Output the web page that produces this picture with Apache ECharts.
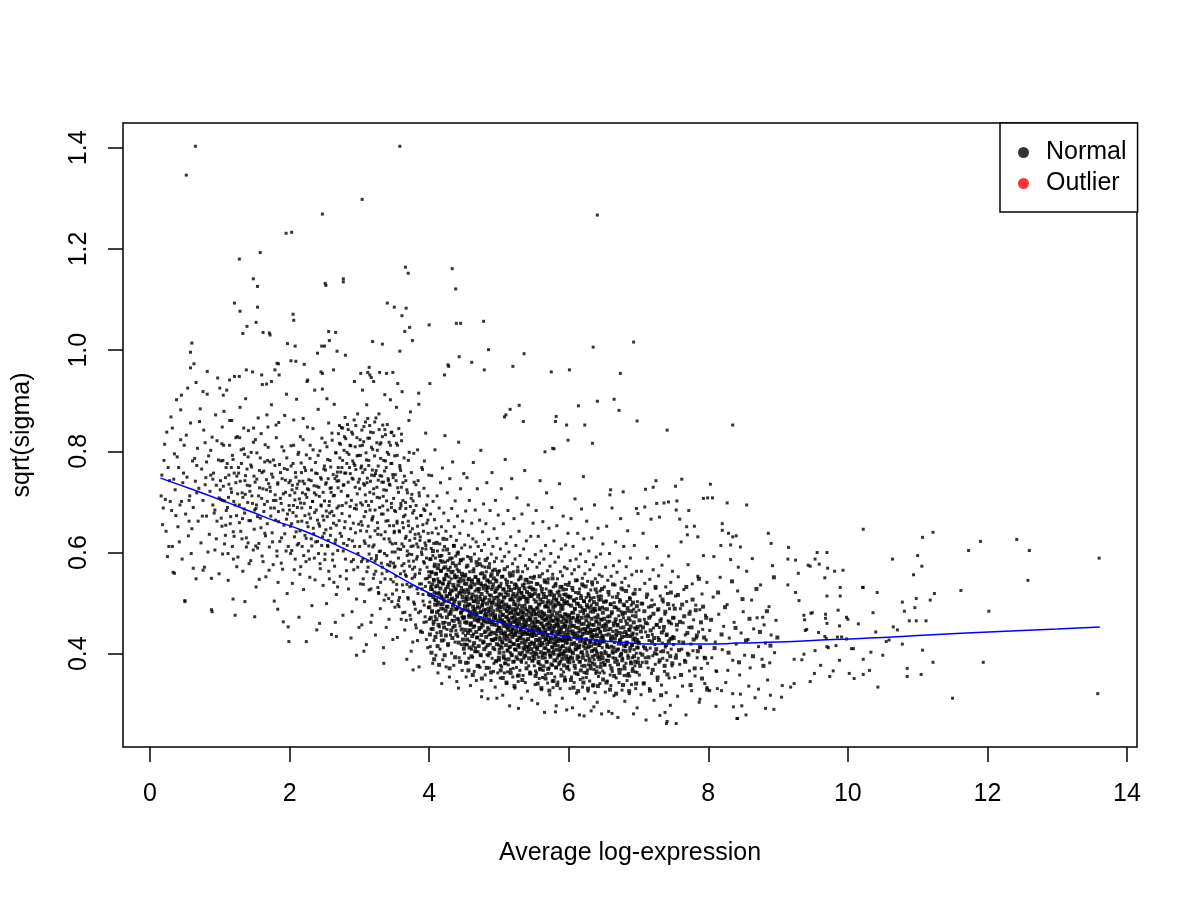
<!DOCTYPE html>
<html>
<head>
<meta charset="utf-8">
<title>sqrt(sigma) vs Average log-expression</title>
<script src="https://cdn.jsdelivr.net/npm/echarts@6/dist/echarts.min.js"></script>
<style>
  html, body { margin: 0; padding: 0; background: #fff; }
  #chart { width: 1200px; height: 900px; }
</style>
</head>
<body>
<div id="chart"></div>
<script>
// tick labels
const xTicks = [0, 2, 4, 6, 8, 10, 12, 14]
const yTicks = [0.4, 0.6, 0.8, 1.0, 1.2, 1.4]

// lowess trend (blue line)
const trendX = [0.15, 0.6, 1.05, 1.5, 1.76, 2.2, 2.7, 3.2, 3.72, 4.01, 4.34, 4.73, 5.1, 5.44, 5.8, 6.16, 6.5, 6.88, 7.2, 7.59, 8.0, 8.45, 9.0, 9.79, 10.5, 11.0, 11.7, 12.5, 13.0, 13.61]
const trendY = [0.747, 0.725, 0.702, 0.678, 0.664, 0.643, 0.613, 0.58, 0.54, 0.519, 0.498, 0.473, 0.459, 0.447, 0.437, 0.43, 0.425, 0.421, 0.419, 0.419, 0.419, 0.421, 0.423, 0.428, 0.432, 0.436, 0.441, 0.446, 0.449, 0.453]

// points, by strip of average log-expression
const pts0to1 = [[0.16,0.712],[0.18,0.655],[0.2,0.782],[0.22,0.705],[0.24,0.838],[0.27,0.612],[0.28,0.742],[0.3,0.868],[0.31,0.683],[0.33,0.561],[0.35,0.795],[0.36,0.724],[0.38,0.902],[0.4,0.651],[0.41,0.768],[0.43,0.694],[0.44,0.823],[0.46,0.587],[0.47,0.738],[0.49,0.812],[0.5,0.505],[0.51,0.676],[0.53,0.749],[0.54,0.925],[0.55,0.633],[0.57,0.712],[0.58,0.856],[0.59,0.598],[0.61,0.781],[0.62,0.689],[0.63,0.973],[0.65,0.741],[0.66,0.548],[0.68,0.806],[0.69,0.662],[0.7,0.727],[0.72,0.884],[0.73,0.619],[0.74,0.765],[0.76,0.703],[0.77,0.842],[0.78,0.571],[0.8,0.748],[0.81,0.672],[0.82,0.913],[0.84,0.791],[0.85,0.636],[0.86,0.721],[0.88,0.487],[0.89,0.828],[0.9,0.694],[0.91,0.757],[0.93,0.605],[0.94,0.872],[0.95,0.733],[0.96,0.662],[0.97,0.945],[0.98,0.783],[0.99,0.558],[0.34,0.745],[0.45,0.701],[0.56,0.662],[0.67,0.772],[0.79,0.817],[0.87,0.753],[0.92,0.678],
  [0.17,0.753],[0.19,0.688],[0.21,0.814],[0.23,0.642],[0.26,0.768],[0.29,0.701],[0.32,0.846],[0.37,0.673],[0.39,0.789],[0.42,0.621],[0.48,0.757],[0.52,0.832],[0.56,0.703],[0.6,0.647],[0.64,0.786],[0.67,0.718],[0.71,0.859],[0.75,0.672],[0.79,0.734],[0.83,0.601],[0.87,0.802],[0.9,0.745],[0.93,0.684],[0.96,0.821],[0.99,0.708],[0.25,0.592],[0.44,0.882],[0.62,0.569],[0.81,0.779],[0.95,0.627]]

const pts1to2 = [[1.01,0.742],[1.02,0.668],[1.03,0.815],[1.04,0.597],[1.05,0.731],[1.06,0.879],[1.07,0.702],[1.08,0.634],[1.09,0.768],[1.1,0.921],[1.11,0.689],[1.12,0.545],[1.13,0.753],[1.14,0.812],[1.15,0.657],[1.16,0.726],[1.17,0.861],[1.18,0.612],[1.19,0.784],[1.2,0.701],[1.21,0.948],[1.22,0.476],[1.23,0.738],[1.24,0.673],[1.25,0.829],[1.26,0.591],[1.27,0.757],[1.28,0.694],[1.29,0.887],[1.3,0.642],[1.31,0.776],[1.32,0.718],[1.33,0.563],[1.34,0.805],[1.35,0.686],[1.36,0.742],[1.37,0.904],[1.38,0.629],[1.39,0.765],[1.4,0.699],[1.41,0.841],[1.42,0.578],[1.43,0.732],[1.44,0.663],[1.45,0.798],[1.46,0.712],[1.47,0.957],[1.48,0.605],[1.49,0.751],[1.5,0.684],[1.51,0.823],[1.52,0.532],[1.53,0.745],[1.54,0.671],[1.55,0.866],[1.56,0.618],[1.57,0.728],[1.58,0.787],[1.59,0.649],[1.6,0.707],[1.61,0.932],[1.62,0.582],[1.63,0.761],[1.64,0.695],[1.65,0.813],[1.66,0.552],[1.67,0.724],[1.68,0.657],[1.69,0.848],[1.7,0.736],[1.71,0.611],[1.72,0.779],[1.73,0.688],[1.74,0.892],[1.75,0.639],[1.76,0.749],[1.77,0.703],[1.78,0.504],[1.79,0.772],[1.8,0.664],[1.81,0.827],[1.82,0.593],[1.83,0.735],[1.84,0.681],[1.85,0.951],[1.86,0.622],[1.87,0.758],[1.88,0.697],[1.89,0.809],[1.9,0.567],[1.91,0.716],[1.92,0.654],[1.93,0.871],[1.94,0.743],[1.95,0.603],[1.96,0.787],[1.97,0.676],[1.98,0.453],[1.99,0.738],[1.015,0.705],[1.045,0.782],[1.085,0.654],[1.125,0.709],[1.165,0.768],[1.205,0.632],[1.245,0.751],[1.285,0.827],[1.325,0.667],[1.365,0.715],[1.405,0.619],[1.445,0.773],[1.485,0.846],[1.525,0.694],[1.565,0.547],[1.605,0.758],[1.645,0.638],[1.685,0.782],[1.725,0.721],[1.765,0.576],[1.805,0.703],[1.845,0.857],[1.885,0.629],[1.925,0.766],[1.965,0.519],[1.035,0.848],[1.195,0.587],[1.355,0.794],[1.515,0.613],[1.675,0.872],[1.835,0.541],[1.955,0.913],
  [1.006,0.724],[1.018,0.781],[1.031,0.652],[1.043,0.703],[1.056,0.812],[1.068,0.617],[1.081,0.748],[1.093,0.683],[1.106,0.776],[1.118,0.598],[1.131,0.735],[1.143,0.861],[1.156,0.671],[1.168,0.719],[1.181,0.792],[1.193,0.641],[1.206,0.757],[1.218,0.694],[1.231,0.827],[1.243,0.572],[1.256,0.716],[1.268,0.768],[1.281,0.659],[1.293,0.741],[1.306,0.803],[1.318,0.627],[1.331,0.709],[1.343,0.846],[1.356,0.678],[1.368,0.752],[1.381,0.611],[1.393,0.733],[1.406,0.789],[1.418,0.663],[1.431,0.721],[1.443,0.584],[1.456,0.769],[1.468,0.697],[1.481,0.818],[1.493,0.646],[1.506,0.739],[1.518,0.687],[1.531,0.797],[1.543,0.609],[1.556,0.712],[1.568,0.762],[1.581,0.668],[1.593,0.835],[1.606,0.593],[1.618,0.726],[1.631,0.681],[1.643,0.779],[1.656,0.633],[1.668,0.744],[1.681,0.701],[1.693,0.808],[1.706,0.565],[1.718,0.729],[1.731,0.672],[1.743,0.755],[1.756,0.621],[1.768,0.783],[1.781,0.688],[1.793,0.714],[1.806,0.852],[1.818,0.603],[1.831,0.738],[1.843,0.661],[1.856,0.774],[1.868,0.707],[1.881,0.579],[1.893,0.746],[1.906,0.684],[1.918,0.801],[1.931,0.637],[1.943,0.719],[1.956,0.666],[1.968,0.764],[1.981,0.612],[1.993,0.693]]

const pts2to3 = [[2.0,0.684],[2.01,0.742],[2.015,0.598],[2.02,0.811],[2.03,0.657],[2.035,0.724],[2.04,0.539],[2.05,0.776],[2.055,0.693],[2.06,0.862],[2.07,0.631],[2.075,0.718],[2.08,0.587],[2.09,0.749],[2.095,0.672],[2.1,0.903],[2.11,0.615],[2.115,0.735],[2.12,0.661],[2.13,0.798],[2.135,0.472],[2.14,0.706],[2.15,0.643],[2.155,0.829],[2.16,0.572],[2.17,0.758],[2.175,0.688],[2.18,0.612],[2.19,0.741],[2.195,0.865],[2.2,0.527],[2.21,0.697],[2.215,0.768],[2.22,0.634],[2.23,0.715],[2.235,0.582],[2.24,0.793],[2.25,0.659],[2.255,0.726],[2.26,0.941],[2.27,0.603],[2.275,0.744],[2.28,0.676],[2.29,0.551],[2.295,0.812],[2.3,0.689],[2.31,0.627],[2.315,0.763],[2.32,0.495],[2.33,0.701],[2.335,0.845],[2.34,0.648],[2.35,0.732],[2.355,0.589],[2.36,0.679],[2.37,0.778],[2.375,0.621],[2.38,0.714],[2.39,0.447],[2.395,0.756],[2.4,0.664],[2.41,0.883],[2.415,0.598],[2.42,0.729],[2.43,0.652],[2.435,0.801],[2.44,0.568],[2.45,0.694],[2.455,0.745],[2.46,0.614],[2.47,0.923],[2.475,0.672],[2.48,0.535],[2.49,0.765],[2.495,0.638],
  [2.5,0.702],[2.505,0.586],[2.51,0.817],[2.52,0.645],[2.525,0.738],[2.53,0.499],[2.54,0.671],[2.545,0.784],[2.55,0.612],[2.56,0.856],[2.565,0.693],[2.57,0.548],[2.58,0.727],[2.585,0.634],[2.59,0.769],[2.6,0.438],[2.605,0.681],[2.61,0.822],[2.62,0.597],[2.625,0.712],[2.63,0.658],[2.64,0.893],[2.645,0.573],[2.65,0.746],[2.66,0.625],[2.665,0.797],[2.67,0.517],[2.68,0.688],[2.685,0.759],[2.69,0.604],[2.7,0.835],[2.705,0.742],[2.71,0.663],[2.72,0.787],[2.725,0.553],[2.73,0.814],[2.74,0.721],[2.745,0.632],[2.75,0.768],[2.76,0.846],[2.765,0.476],[2.77,0.733],[2.78,0.802],[2.785,0.649],[2.79,0.757],[2.8,0.587],[2.805,0.825],[2.81,0.698],[2.82,0.776],[2.825,0.614],[2.83,0.853],[2.84,0.739],[2.845,0.528],[2.85,0.794],[2.86,0.672],[2.865,0.812],[2.87,0.756],[2.88,0.431],[2.885,0.703],[2.89,0.838],[2.9,0.623],[2.905,0.781],[2.91,0.745],[2.92,0.566],[2.925,0.862],[2.93,0.687],[2.94,0.809],[2.945,0.639],[2.95,0.764],[2.96,0.508],[2.965,0.827],[2.97,0.716],[2.98,0.598],[2.985,0.792],[2.99,0.656],[2.515,0.763],[2.575,0.678],[2.635,0.541],[2.695,0.728],[2.755,0.693],[2.815,0.564],[2.875,0.647],[2.935,0.772],[2.995,0.452],[2.535,0.904],[2.595,0.719],[2.655,0.462],[2.715,0.851],[2.775,0.618],[2.835,0.712],[2.895,0.483],[2.955,0.694],[2.555,0.624],[2.675,0.751],[2.795,0.867],[2.915,0.586],[2.975,0.874],
  [2.004,0.713],[2.013,0.652],[2.022,0.771],[2.031,0.604],[2.04,0.733],[2.049,0.679],[2.058,0.812],[2.067,0.566],[2.076,0.704],[2.085,0.758],[2.094,0.641],[2.103,0.727],[2.112,0.689],[2.121,0.794],[2.13,0.618],[2.139,0.741],[2.148,0.557],[2.157,0.698],[2.166,0.777],[2.175,0.662],[2.184,0.718],[2.193,0.823],[2.202,0.594],[2.211,0.736],[2.22,0.673],[2.229,0.762],[2.238,0.628],[2.247,0.709],[2.256,0.848],[2.265,0.651],[2.274,0.724],[2.283,0.587],[2.292,0.786],[2.301,0.668],[2.31,0.742],[2.319,0.613],[2.328,0.701],[2.337,0.803],[2.346,0.637],[2.355,0.718],[2.364,0.546],[2.373,0.757],[2.382,0.684],[2.391,0.731],[2.4,0.622],[2.409,0.792],[2.418,0.657],[2.427,0.711],[2.436,0.578],[2.445,0.748],[2.454,0.692],[2.463,0.826],[2.472,0.631],[2.481,0.719],[2.49,0.664],[2.499,0.771],[2.508,0.597],[2.517,0.735],[2.526,0.682],[2.535,0.809],[2.544,0.614],[2.553,0.746],[2.562,0.563],[2.571,0.701],[2.58,0.782],[2.589,0.648],[2.598,0.728],[2.607,0.836],[2.616,0.585],[2.625,0.754],[2.634,0.673],[2.643,0.713],[2.652,0.619],[2.661,0.797],[2.67,0.654],[2.679,0.741],[2.688,0.532],[2.697,0.768],[2.706,0.692],[2.715,0.816],[2.724,0.638],[2.733,0.759],[2.742,0.847],[2.751,0.677],[2.76,0.782],[2.769,0.603],[2.778,0.734],[2.787,0.829],[2.796,0.661],[2.805,0.757],[2.814,0.548],[2.823,0.798],[2.832,0.712],[2.841,0.843],[2.85,0.626],[2.859,0.768],[2.868,0.691],[2.877,0.811],[2.886,0.582],[2.895,0.747],[2.904,0.834],[2.913,0.658],[2.922,0.776],[2.931,0.612],[2.94,0.729],[2.949,0.851],[2.958,0.686],[2.967,0.791],[2.976,0.571],[2.985,0.739]]

const pts3to4 = [[3.0,0.745],[3.005,0.612],[3.01,0.823],[3.015,0.538],[3.02,0.698],[3.03,0.771],[3.035,0.457],[3.04,0.654],[3.045,0.812],[3.05,0.587],[3.06,0.736],[3.065,0.849],[3.07,0.623],[3.075,0.503],[3.08,0.764],[3.09,0.681],[3.095,0.797],[3.1,0.418],[3.105,0.642],[3.11,0.738],[3.12,0.865],[3.125,0.571],[3.13,0.693],[3.135,0.782],[3.14,0.526],[3.15,0.719],[3.155,0.631],[3.16,0.838],[3.17,0.588],[3.175,0.753],[3.18,0.476],[3.185,0.667],[3.19,0.804],[3.2,0.549],[3.205,0.726],[3.21,0.615],[3.22,0.858],[3.225,0.684],[3.23,0.437],[3.24,0.762],[3.245,0.594],[3.25,0.817],[3.26,0.659],[3.265,0.531],[3.27,0.743],[3.28,0.874],[3.285,0.602],[3.29,0.708],[3.3,0.489],[3.305,0.786],[3.31,0.635],[3.32,0.751],[3.325,0.558],[3.33,0.829],[3.34,0.676],[3.345,0.412],[3.35,0.724],[3.36,0.598],[3.365,0.843],[3.37,0.641],[3.38,0.516],[3.385,0.768],[3.39,0.702],[3.4,0.853],[3.405,0.576],[3.41,0.663],[3.42,0.794],[3.425,0.468],[3.43,0.735],[3.44,0.621],[3.445,0.812],[3.45,0.547],[3.46,0.689],[3.465,0.776],[3.47,0.601],[3.48,0.428],[3.485,0.748],[3.49,0.653],[3.495,0.831],[3.015,0.792],[3.055,0.548],[3.085,0.714],[3.115,0.583],[3.145,0.826],[3.165,0.462],[3.195,0.671],[3.215,0.752],[3.235,0.563],[3.255,0.709],[3.275,0.521],[3.295,0.814],[3.315,0.579],[3.335,0.692],[3.355,0.506],[3.375,0.781],[3.395,0.563],[3.415,0.742],[3.435,0.574],[3.455,0.837],[3.475,0.518],[3.025,0.661],[3.065,0.405],[3.105,0.892],[3.135,0.613],[3.175,0.701],[3.225,0.583],[3.265,0.648],[3.305,0.541],[3.345,0.739],[3.385,0.452],[3.425,0.627],[3.465,0.503],[3.49,0.579],[3.045,0.921],[3.205,0.938],[3.365,0.912],[3.445,0.902],
  [3.5,0.571],[3.505,0.683],[3.51,0.492],[3.515,0.754],[3.52,0.618],[3.53,0.816],[3.535,0.537],[3.54,0.662],[3.545,0.432],[3.55,0.728],[3.56,0.589],[3.565,0.845],[3.57,0.643],[3.575,0.511],[3.58,0.772],[3.59,0.606],[3.595,0.697],[3.6,0.468],[3.605,0.821],[3.61,0.574],[3.62,0.659],[3.625,0.738],[3.63,0.523],[3.635,0.612],[3.64,0.787],[3.65,0.447],[3.655,0.674],[3.66,0.556],[3.665,0.742],[3.67,0.632],[3.68,0.389],[3.685,0.594],[3.69,0.718],[3.7,0.508],[3.705,0.653],[3.71,0.861],[3.72,0.573],[3.725,0.476],[3.73,0.691],[3.74,0.612],[3.745,0.758],[3.75,0.534],[3.76,0.647],[3.765,0.423],[3.77,0.702],[3.775,0.583],[3.78,0.796],[3.79,0.498],[3.795,0.628],[3.8,0.557],[3.81,0.734],[3.815,0.451],[3.82,0.668],[3.83,0.592],[3.835,0.803],[3.84,0.519],[3.85,0.637],[3.855,0.374],[3.86,0.712],[3.87,0.566],[3.875,0.484],[3.88,0.673],[3.89,0.601],[3.895,0.768],[3.9,0.528],[3.905,0.442],[3.91,0.655],[3.92,0.582],[3.925,0.727],[3.93,0.496],[3.94,0.619],[3.945,0.548],[3.95,0.836],[3.96,0.463],[3.965,0.694],[3.97,0.571],[3.98,0.412],[3.985,0.638],[3.99,0.517],[3.995,0.753],[3.502,0.642],[3.522,0.553],[3.542,0.792],[3.562,0.505],[3.582,0.687],[3.602,0.729],[3.622,0.481],[3.642,0.563],[3.662,0.699],[3.682,0.537],[3.702,0.782],[3.722,0.624],[3.742,0.405],[3.762,0.567],[3.782,0.683],[3.802,0.488],[3.822,0.617],[3.842,0.742],[3.862,0.538],[3.882,0.445],[3.902,0.608],[3.922,0.686],[3.942,0.473],[3.962,0.589],[3.982,0.664],[3.512,0.601],[3.552,0.497],[3.592,0.762],[3.632,0.671],[3.672,0.466],[3.712,0.597],[3.752,0.715],[3.792,0.552],[3.832,0.426],[3.872,0.631],[3.912,0.504],[3.952,0.614],[3.992,0.562],[3.532,0.887],[3.612,0.918],[3.732,0.878],[3.852,0.893],[3.932,0.781],
  [3.004,0.726],[3.01,0.811],[3.017,0.643],[3.023,0.767],[3.03,0.582],[3.036,0.842],[3.043,0.694],[3.049,0.758],[3.056,0.537],[3.062,0.819],[3.069,0.671],[3.075,0.733],[3.082,0.618],[3.088,0.858],[3.095,0.701],[3.101,0.783],[3.108,0.562],[3.114,0.747],[3.121,0.826],[3.127,0.652],[3.134,0.772],[3.14,0.597],[3.147,0.851],[3.153,0.684],[3.16,0.741],[3.166,0.528],[3.173,0.808],[3.179,0.664],[3.186,0.763],[3.192,0.611],[3.199,0.837],[3.205,0.716],[3.212,0.557],[3.218,0.791],[3.225,0.643],[3.231,0.756],[3.238,0.866],[3.244,0.588],[3.251,0.729],[3.257,0.802],[3.264,0.636],[3.27,0.771],[3.277,0.519],[3.283,0.843],[3.29,0.689],[3.296,0.752],[3.303,0.603],[3.309,0.817],[3.316,0.676],[3.322,0.739],[3.329,0.571],[3.335,0.852],[3.342,0.711],[3.348,0.782],[3.355,0.627],[3.361,0.761],[3.368,0.548],[3.374,0.833],[3.381,0.662],[3.387,0.723],[3.394,0.594],[3.4,0.798],[3.407,0.684],[3.413,0.746],[3.42,0.509],[3.426,0.818],[3.433,0.653],[3.439,0.733],[3.446,0.581],[3.452,0.776],[3.459,0.697],[3.465,0.838],[3.472,0.617],[3.478,0.754],[3.485,0.542],[3.491,0.707],[3.498,0.639],[3.505,0.791],[3.512,0.573],[3.519,0.681],[3.526,0.742],[3.533,0.526],[3.54,0.658],[3.547,0.812],[3.554,0.607],[3.561,0.719],[3.568,0.493],[3.575,0.641],[3.582,0.767],[3.589,0.558],[3.596,0.692],[3.603,0.834],[3.61,0.617],[3.617,0.536],[3.624,0.703],[3.631,0.649],[3.638,0.578],[3.645,0.751],[3.652,0.482],[3.659,0.628],[3.666,0.687],[3.673,0.553],[3.68,0.724],[3.687,0.603],[3.694,0.511],[3.701,0.662],[3.708,0.583],[3.715,0.798],[3.722,0.532],[3.729,0.641],[3.736,0.468],[3.743,0.707],[3.75,0.596],[3.757,0.549],[3.764,0.678],[3.771,0.613],[3.778,0.502],[3.785,0.739],[3.792,0.571],[3.799,0.636],[3.806,0.457],[3.813,0.693],[3.82,0.587],[3.827,0.528],[3.834,0.652],[3.841,0.611],[3.848,0.481],[3.855,0.718],[3.862,0.559],[3.869,0.624],[3.876,0.443],[3.883,0.673],[3.89,0.538],[3.897,0.596],[3.904,0.764],[3.911,0.517],[3.918,0.642],[3.925,0.462],[3.932,0.579],[3.939,0.683],[3.946,0.533],[3.953,0.607],[3.96,0.428],[3.967,0.658],[3.974,0.549],[3.981,0.712],[3.988,0.491],[3.995,0.623]]

const pts4to5 = [[4.0,0.541],[4.003,0.468],[4.006,0.623],[4.01,0.502],[4.013,0.587],[4.016,0.414],[4.02,0.676],[4.023,0.533],[4.026,0.449],[4.03,0.608],[4.033,0.561],[4.036,0.752],[4.04,0.482],[4.043,0.639],[4.046,0.527],[4.05,0.381],[4.053,0.594],[4.056,0.701],[4.06,0.458],[4.063,0.547],[4.066,0.618],[4.07,0.426],[4.073,0.572],[4.076,0.665],[4.08,0.507],[4.083,0.803],[4.086,0.474],[4.09,0.589],[4.093,0.532],[4.096,0.397],[4.1,0.648],[4.103,0.519],[4.106,0.558],[4.11,0.441],[4.113,0.712],[4.116,0.496],[4.12,0.603],[4.123,0.548],[4.126,0.362],[4.13,0.637],[4.133,0.485],[4.136,0.576],[4.14,0.521],[4.143,0.688],[4.146,0.453],[4.15,0.542],[4.153,0.617],[4.156,0.409],[4.16,0.584],[4.163,0.738],[4.166,0.497],[4.17,0.563],[4.173,0.436],[4.176,0.651],[4.18,0.514],[4.183,0.594],[4.186,0.472],[4.19,0.767],[4.193,0.538],[4.196,0.388],[4.2,0.605],[4.203,0.489],[4.206,0.569],[4.21,0.678],[4.213,0.427],[4.216,0.546],[4.22,0.612],[4.223,0.503],[4.226,0.831],[4.23,0.462],[4.233,0.581],[4.236,0.529],[4.24,0.642],[4.243,0.374],[4.246,0.557],[4.25,0.493],[4.253,0.626],[4.256,0.448],[4.26,0.718],[4.263,0.512],[4.266,0.584],[4.27,0.416],[4.273,0.537],[4.276,0.663],[4.28,0.478],[4.283,0.552],[4.286,0.598],[4.29,0.354],[4.293,0.519],[4.296,0.746],[4.3,0.483],[4.303,0.571],[4.306,0.437],[4.31,0.632],[4.313,0.508],[4.316,0.548],[4.32,0.401],[4.323,0.687],[4.326,0.466],[4.33,0.589],[4.333,0.524],[4.336,0.779],[4.34,0.452],[4.343,0.563],[4.346,0.498],[4.35,0.614],[4.353,0.377],[4.356,0.532],[4.36,0.651],[4.363,0.474],[4.366,0.556],[4.37,0.423],[4.373,0.702],[4.376,0.507],[4.38,0.593],[4.383,0.446],[4.386,0.528],[4.39,0.624],[4.393,0.489],[4.396,0.345],[4.4,0.567],[4.403,0.512],[4.406,0.672],[4.41,0.434],[4.413,0.543],[4.416,0.601],[4.42,0.468],[4.423,0.818],[4.426,0.521],[4.43,0.392],[4.433,0.578],[4.436,0.497],[4.44,0.638],[4.443,0.455],[4.446,0.549],[4.45,0.726],[4.453,0.481],[4.456,0.584],[4.46,0.418],[4.463,0.531],[4.466,0.609],[4.47,0.473],[4.473,0.367],[4.476,0.553],[4.48,0.662],[4.483,0.504],[4.486,0.441],[4.49,0.587],[4.493,0.526],[4.496,0.756],
  [4.5,0.472],[4.503,0.538],[4.506,0.401],[4.51,0.615],[4.513,0.487],[4.516,0.553],[4.52,0.436],[4.523,0.682],[4.526,0.509],[4.53,0.354],[4.533,0.571],[4.536,0.463],[4.54,0.527],[4.543,0.748],[4.546,0.418],[4.55,0.592],[4.553,0.494],[4.556,0.546],[4.56,0.382],[4.563,0.634],[4.566,0.476],[4.57,0.519],[4.573,0.447],[4.576,0.703],[4.58,0.562],[4.583,0.425],[4.586,0.498],[4.59,0.611],[4.593,0.337],[4.596,0.535],[4.6,0.461],[4.603,0.583],[4.606,0.409],[4.61,0.658],[4.613,0.512],[4.616,0.472],[4.62,0.546],[4.623,0.393],[4.626,0.627],[4.63,0.486],[4.633,0.778],[4.636,0.439],[4.64,0.568],[4.643,0.503],[4.646,0.365],[4.65,0.597],[4.653,0.455],[4.656,0.524],[4.66,0.684],[4.663,0.412],[4.666,0.551],[4.67,0.478],[4.673,0.621],[4.676,0.347],[4.68,0.507],[4.683,0.574],[4.686,0.432],[4.69,0.726],[4.693,0.493],[4.696,0.539],[4.7,0.404],[4.703,0.612],[4.706,0.468],[4.71,0.522],[4.713,0.376],[4.716,0.587],[4.72,0.448],[4.723,0.664],[4.726,0.513],[4.73,0.427],[4.733,0.558],[4.736,0.481],[4.74,0.802],[4.743,0.396],[4.746,0.536],[4.75,0.604],[4.753,0.459],[4.756,0.327],[4.76,0.573],[4.763,0.497],[4.766,0.641],[4.77,0.421],[4.773,0.528],[4.776,0.467],[4.78,0.696],[4.783,0.384],[4.786,0.549],[4.79,0.508],[4.793,0.616],[4.796,0.442],[4.8,0.571],[4.803,0.358],[4.806,0.487],[4.81,0.536],[4.813,0.657],[4.816,0.413],[4.82,0.562],[4.823,0.474],[4.826,0.738],[4.83,0.398],[4.833,0.521],[4.836,0.589],[4.84,0.452],[4.843,0.311],[4.846,0.544],[4.85,0.483],[4.853,0.626],[4.856,0.437],[4.86,0.516],[4.863,0.372],[4.866,0.578],[4.87,0.462],[4.873,0.683],[4.876,0.419],[4.88,0.553],[4.883,0.501],[4.886,0.347],[4.89,0.597],[4.893,0.443],[4.896,0.527],[4.9,0.758],[4.903,0.391],[4.906,0.564],[4.91,0.478],[4.913,0.612],[4.916,0.426],[4.92,0.538],[4.923,0.365],[4.926,0.504],[4.93,0.647],[4.933,0.457],[4.936,0.582],[4.94,0.408],[4.943,0.521],[4.946,0.334],[4.95,0.703],[4.953,0.469],[4.956,0.546],[4.96,0.431],[4.963,0.589],[4.966,0.386],[4.97,0.512],[4.973,0.628],[4.976,0.448],[4.98,0.556],[4.983,0.362],[4.986,0.493],[4.99,0.674],[4.993,0.417],[4.996,0.533],[4.508,0.462],[4.528,0.418],[4.548,0.507],[4.568,0.391],[4.588,0.456],[4.608,0.531],[4.628,0.415],[4.648,0.482],[4.668,0.404],[4.688,0.466],[4.708,0.544],[4.728,0.373],[4.748,0.452],[4.768,0.505],[4.788,0.423],[4.808,0.463],[4.828,0.532],[4.848,0.396],[4.868,0.485],[4.888,0.428],[4.908,0.502],[4.928,0.381],[4.948,0.473],[4.968,0.437],[4.988,0.512]]

const core4to5 = [[4.002,0.492],[4.006,0.553],[4.011,0.438],[4.015,0.516],[4.019,0.587],[4.024,0.471],[4.028,0.528],[4.033,0.402],[4.037,0.561],[4.041,0.484],[4.046,0.537],[4.05,0.449],[4.055,0.603],[4.059,0.512],[4.064,0.463],[4.068,0.545],[4.072,0.389],[4.077,0.521],[4.081,0.576],[4.086,0.497],[4.09,0.433],[4.094,0.558],[4.099,0.506],[4.103,0.468],[4.108,0.619],[4.112,0.482],[4.117,0.534],[4.121,0.415],[4.125,0.569],[4.13,0.501],[4.134,0.457],[4.139,0.542],[4.143,0.378],[4.147,0.517],[4.152,0.593],[4.156,0.476],[4.161,0.529],[4.165,0.443],[4.17,0.564],[4.174,0.489],[4.178,0.511],[4.183,0.426],[4.187,0.582],[4.192,0.498],[4.196,0.539],[4.201,0.461],[4.205,0.627],[4.209,0.507],[4.214,0.452],[4.218,0.548],[4.223,0.397],[4.227,0.523],[4.231,0.571],[4.236,0.485],[4.24,0.436],[4.245,0.555],[4.249,0.514],[4.254,0.472],[4.258,0.606],[4.262,0.493],[4.267,0.532],[4.271,0.419],[4.276,0.566],[4.28,0.504],[4.285,0.459],[4.289,0.541],[4.293,0.371],[4.298,0.518],[4.302,0.588],[4.307,0.479],[4.311,0.525],[4.316,0.446],[4.32,0.561],[4.324,0.487],[4.329,0.509],[4.333,0.431],[4.338,0.579],[4.342,0.495],[4.346,0.536],[4.351,0.465],[4.355,0.613],[4.36,0.503],[4.364,0.455],[4.369,0.551],[4.373,0.393],[4.377,0.527],[4.382,0.574],[4.386,0.488],[4.391,0.438],[4.395,0.552],[4.4,0.515],[4.404,0.469],[4.408,0.598],[4.413,0.491],[4.417,0.535],[4.422,0.422],[4.426,0.563],[4.431,0.501],[4.435,0.462],[4.439,0.543],[4.444,0.384],[4.448,0.519],[4.453,0.585],[4.457,0.481],[4.461,0.524],[4.466,0.448],[4.47,0.558],[4.475,0.486],[4.479,0.512],[4.484,0.428],[4.488,0.47],[4.493,0.545],[4.497,0.41],
  [4.502,0.472],[4.506,0.521],[4.51,0.418],[4.513,0.494],[4.517,0.556],[4.521,0.447],[4.525,0.503],[4.529,0.382],[4.533,0.538],[4.537,0.461],[4.54,0.512],[4.544,0.428],[4.548,0.574],[4.552,0.486],[4.556,0.441],[4.56,0.523],[4.563,0.367],[4.567,0.497],[4.571,0.548],[4.575,0.473],[4.579,0.412],[4.583,0.531],[4.587,0.482],[4.59,0.446],[4.594,0.589],[4.598,0.459],[4.602,0.509],[4.606,0.395],[4.61,0.542],[4.613,0.478],[4.617,0.435],[4.621,0.517],[4.625,0.358],[4.629,0.493],[4.633,0.563],[4.637,0.453],[4.64,0.504],[4.644,0.421],[4.648,0.537],[4.652,0.467],[4.656,0.488],[4.66,0.405],[4.663,0.552],[4.667,0.474],[4.671,0.513],[4.675,0.443],[4.679,0.581],[4.683,0.48],[4.687,0.432],[4.69,0.527],[4.694,0.376],[4.698,0.501],[4.702,0.546],[4.706,0.464],[4.71,0.415],[4.713,0.528],[4.717,0.491],[4.721,0.451],[4.725,0.577],[4.729,0.47],[4.733,0.508],[4.737,0.398],[4.74,0.539],[4.744,0.483],[4.748,0.437],[4.752,0.518],[4.756,0.351],[4.76,0.495],[4.763,0.559],[4.767,0.456],[4.771,0.502],[4.775,0.424],[4.779,0.534],[4.783,0.465],[4.787,0.486],[4.79,0.409],[4.794,0.553],[4.798,0.476],[4.802,0.511],[4.806,0.444],[4.81,0.585],[4.813,0.479],[4.817,0.433],[4.821,0.526],[4.825,0.372],[4.829,0.499],[4.833,0.545],[4.837,0.462],[4.84,0.417],[4.844,0.531],[4.848,0.489],[4.852,0.448],[4.856,0.571],[4.86,0.468],[4.863,0.506],[4.867,0.401],[4.871,0.541],[4.875,0.477],[4.879,0.439],[4.883,0.515],[4.887,0.363],[4.89,0.492],[4.894,0.557],[4.898,0.458],[4.902,0.5],[4.906,0.427],[4.91,0.532],[4.913,0.463],[4.917,0.484],[4.921,0.411],[4.925,0.549],[4.929,0.471],[4.933,0.51],[4.937,0.441],[4.94,0.566],[4.944,0.476],[4.948,0.429],[4.952,0.524],[4.956,0.385],[4.96,0.497],[4.963,0.543],[4.967,0.457],[4.971,0.419],[4.975,0.529],[4.979,0.487],[4.983,0.445],[4.987,0.562],[4.99,0.466],[4.994,0.505],[4.998,0.392]]

const pts5to6 = [[5.0,0.452],[5.003,0.518],[5.006,0.387],[5.009,0.564],[5.012,0.433],[5.015,0.491],[5.018,0.352],[5.021,0.607],[5.024,0.468],[5.027,0.415],[5.03,0.539],[5.033,0.726],[5.036,0.447],[5.039,0.374],[5.042,0.502],[5.045,0.583],[5.048,0.421],[5.051,0.476],[5.054,0.318],[5.057,0.553],[5.06,0.439],[5.063,0.657],[5.066,0.496],[5.069,0.403],[5.072,0.528],[5.075,0.461],[5.078,0.362],[5.081,0.592],[5.084,0.443],[5.087,0.512],[5.09,0.784],[5.093,0.389],[5.096,0.547],[5.099,0.472],[5.102,0.427],[5.105,0.618],[5.108,0.484],[5.111,0.341],[5.114,0.536],[5.117,0.451],[5.12,0.407],[5.123,0.572],[5.126,0.493],[5.129,0.683],[5.132,0.431],[5.135,0.378],[5.138,0.524],[5.141,0.465],[5.144,0.601],[5.147,0.412],[5.15,0.489],[5.153,0.297],[5.156,0.553],[5.159,0.438],[5.162,0.507],[5.165,0.369],[5.168,0.631],[5.171,0.457],[5.174,0.423],[5.177,0.541],[5.18,0.482],[5.183,0.746],[5.186,0.396],[5.189,0.514],[5.192,0.448],[5.195,0.578],[5.198,0.354],[5.201,0.472],[5.204,0.419],[5.207,0.562],[5.21,0.437],[5.213,0.504],[5.216,0.667],[5.219,0.385],[5.222,0.529],[5.225,0.463],[5.228,0.332],[5.231,0.587],[5.234,0.441],[5.237,0.497],[5.24,0.408],[5.243,0.614],[5.246,0.469],[5.249,0.536],[5.252,0.373],[5.255,0.452],[5.258,0.708],[5.261,0.426],[5.264,0.518],[5.267,0.389],[5.27,0.571],[5.273,0.478],[5.276,0.345],[5.279,0.546],[5.282,0.433],[5.285,0.497],[5.288,0.642],[5.291,0.412],[5.294,0.463],[5.297,0.529],[5.3,0.367],[5.303,0.594],[5.306,0.446],[5.309,0.508],[5.312,0.398],[5.315,0.553],[5.318,0.472],[5.321,0.312],[5.324,0.521],[5.327,0.437],[5.33,0.676],[5.333,0.481],[5.336,0.403],[5.339,0.562],[5.342,0.452],[5.345,0.357],[5.348,0.514],[5.351,0.429],[5.354,0.607],[5.357,0.468],[5.36,0.391],[5.363,0.538],[5.366,0.457],[5.369,0.762],[5.372,0.418],[5.375,0.496],[5.378,0.343],[5.381,0.574],[5.384,0.441],[5.387,0.509],[5.39,0.382],[5.393,0.623],[5.396,0.463],[5.399,0.427],[5.402,0.547],[5.405,0.486],[5.408,0.326],[5.411,0.568],[5.414,0.413],[5.417,0.502],[5.42,0.694],[5.423,0.447],[5.426,0.376],[5.429,0.531],[5.432,0.472],[5.435,0.415],[5.438,0.586],[5.441,0.438],[5.444,0.513],[5.447,0.361],[5.45,0.551],[5.453,0.467],[5.456,0.632],[5.459,0.401],[5.462,0.492],[5.465,0.423],[5.468,0.541],[5.471,0.308],[5.474,0.476],[5.477,0.582],[5.48,0.434],[5.483,0.517],[5.486,0.387],[5.489,0.658],[5.492,0.455],[5.495,0.403],[5.498,0.528],[5.004,0.409],[5.024,0.377],[5.044,0.462],[5.064,0.391],[5.084,0.381],[5.104,0.453],[5.124,0.364],[5.144,0.479],[5.164,0.402],[5.184,0.441],[5.204,0.371],[5.224,0.409],[5.244,0.487],[5.264,0.356],[5.284,0.418],[5.304,0.433],[5.324,0.383],[5.344,0.474],[5.364,0.408],[5.384,0.396],[5.404,0.438],[5.424,0.408],[5.444,0.364],[5.464,0.447],[5.484,0.395],
  [5.5,0.442],[5.503,0.507],[5.506,0.376],[5.509,0.553],[5.512,0.421],[5.515,0.478],[5.518,0.339],[5.521,0.596],[5.524,0.454],[5.527,0.402],[5.53,0.526],[5.533,0.683],[5.536,0.436],[5.539,0.362],[5.542,0.491],[5.545,0.571],[5.548,0.412],[5.551,0.464],[5.554,0.301],[5.557,0.538],[5.56,0.428],[5.563,0.632],[5.566,0.482],[5.569,0.393],[5.572,0.517],[5.575,0.449],[5.578,0.351],[5.581,0.579],[5.584,0.431],[5.587,0.498],[5.59,0.742],[5.593,0.378],[5.596,0.534],[5.599,0.461],[5.602,0.416],[5.605,0.603],[5.608,0.473],[5.611,0.329],[5.614,0.522],[5.617,0.438],[5.62,0.397],[5.623,0.558],[5.626,0.481],[5.629,0.661],[5.632,0.419],[5.635,0.367],[5.638,0.511],[5.641,0.452],[5.644,0.587],[5.647,0.401],[5.65,0.476],[5.653,0.284],[5.656,0.541],[5.659,0.426],[5.662,0.494],[5.665,0.358],[5.668,0.614],[5.671,0.443],[5.674,0.411],[5.677,0.528],[5.68,0.469],[5.683,0.718],[5.686,0.384],[5.689,0.501],[5.692,0.436],[5.695,0.564],[5.698,0.342],[5.701,0.459],[5.704,0.407],[5.707,0.548],[5.71,0.424],[5.713,0.491],[5.716,0.648],[5.719,0.372],[5.722,0.516],[5.725,0.451],[5.728,0.319],[5.731,0.573],[5.734,0.429],[5.737,0.484],[5.74,0.396],[5.743,0.598],[5.746,0.456],[5.749,0.523],[5.752,0.361],[5.755,0.439],[5.758,0.689],[5.761,0.413],[5.764,0.504],[5.767,0.377],[5.77,0.557],[5.773,0.465],[5.776,0.333],[5.779,0.532],[5.782,0.421],[5.785,0.484],[5.788,0.623],[5.791,0.399],[5.794,0.451],[5.797,0.516],[5.8,0.354],[5.803,0.581],[5.806,0.433],[5.809,0.494],[5.812,0.386],[5.815,0.539],[5.818,0.458],[5.821,0.297],[5.824,0.508],[5.827,0.424],[5.83,0.653],[5.833,0.467],[5.836,0.391],[5.839,0.548],[5.842,0.439],[5.845,0.344],[5.848,0.501],[5.851,0.416],[5.854,0.591],[5.857,0.455],[5.86,0.378],[5.863,0.524],[5.866,0.444],[5.869,0.736],[5.872,0.405],[5.875,0.483],[5.878,0.331],[5.881,0.562],[5.884,0.428],[5.887,0.496],[5.89,0.369],[5.893,0.607],[5.896,0.449],[5.899,0.414],[5.902,0.533],[5.905,0.473],[5.908,0.312],[5.911,0.554],[5.914,0.401],[5.917,0.488],[5.92,0.672],[5.923,0.434],[5.926,0.364],[5.929,0.517],[5.932,0.459],[5.935,0.403],[5.938,0.571],[5.941,0.426],[5.944,0.499],[5.947,0.349],[5.95,0.537],[5.953,0.454],[5.956,0.615],[5.959,0.389],[5.962,0.478],[5.965,0.411],[5.968,0.527],[5.971,0.289],[5.974,0.463],[5.977,0.568],[5.98,0.421],[5.983,0.503],[5.986,0.375],[5.989,0.638],[5.992,0.442],[5.995,0.391],[5.998,0.514],[5.504,0.398],[5.524,0.366],[5.544,0.448],[5.564,0.381],[5.584,0.371],[5.604,0.441],[5.624,0.353],[5.644,0.466],[5.664,0.392],[5.684,0.428],[5.704,0.361],[5.724,0.398],[5.744,0.473],[5.764,0.346],[5.784,0.406],[5.804,0.421],[5.824,0.372],[5.844,0.461],[5.864,0.397],[5.884,0.385],[5.904,0.426],[5.924,0.397],[5.944,0.354],[5.964,0.434],[5.984,0.384]]

const core5to6 = [[5.002,0.451],[5.005,0.498],[5.008,0.402],[5.012,0.474],[5.015,0.533],[5.018,0.428],[5.022,0.483],[5.025,0.367],[5.028,0.517],[5.032,0.441],[5.035,0.492],[5.038,0.412],[5.042,0.552],[5.045,0.466],[5.048,0.423],[5.052,0.503],[5.055,0.352],[5.058,0.477],[5.062,0.527],[5.065,0.455],[5.068,0.395],[5.072,0.511],[5.075,0.462],[5.078,0.431],[5.082,0.567],[5.085,0.439],[5.088,0.489],[5.092,0.381],[5.095,0.521],[5.098,0.458],[5.102,0.417],[5.105,0.497],[5.108,0.343],[5.112,0.473],[5.115,0.542],[5.118,0.435],[5.122,0.484],[5.125,0.406],[5.128,0.516],[5.132,0.447],[5.135,0.468],[5.138,0.389],[5.142,0.532],[5.145,0.454],[5.148,0.493],[5.152,0.425],[5.155,0.559],[5.158,0.461],[5.162,0.414],[5.165,0.507],[5.168,0.362],[5.172,0.481],[5.175,0.526],[5.178,0.444],[5.182,0.398],[5.185,0.508],[5.188,0.471],[5.192,0.433],[5.195,0.555],[5.198,0.45],[5.202,0.488],[5.205,0.384],[5.208,0.518],[5.212,0.463],[5.215,0.419],[5.218,0.498],[5.222,0.336],[5.225,0.475],[5.228,0.537],[5.232,0.437],[5.235,0.482],[5.238,0.408],[5.242,0.513],[5.245,0.445],[5.248,0.466],[5.252,0.393],[5.255,0.531],[5.258,0.456],[5.262,0.491],[5.265,0.427],[5.268,0.563],[5.272,0.459],[5.275,0.416],[5.278,0.505],[5.282,0.357],[5.285,0.479],[5.288,0.524],[5.292,0.442],[5.295,0.401],[5.298,0.511],[5.302,0.469],[5.305,0.431],[5.308,0.549],[5.312,0.448],[5.315,0.486],[5.318,0.387],[5.322,0.52],[5.325,0.457],[5.328,0.422],[5.332,0.494],[5.335,0.348],[5.338,0.472],[5.342,0.535],[5.345,0.439],[5.348,0.481],[5.352,0.411],[5.355,0.512],[5.358,0.443],[5.362,0.464],[5.365,0.396],[5.368,0.529],[5.372,0.453],[5.375,0.489],[5.378,0.424],[5.382,0.546],[5.385,0.457],[5.388,0.413],[5.392,0.503],[5.395,0.371],[5.398,0.477],[5.402,0.522],[5.405,0.44],[5.408,0.404],[5.412,0.509],[5.415,0.467],[5.418,0.429],[5.422,0.541],[5.425,0.446],[5.428,0.484],[5.432,0.391],[5.435,0.518],[5.438,0.455],[5.442,0.419],[5.445,0.492],[5.448,0.361],[5.452,0.47],[5.455,0.531],[5.458,0.436],[5.462,0.479],[5.465,0.409],[5.468,0.514],[5.472,0.442],[5.475,0.462],[5.478,0.386],[5.482,0.527],[5.485,0.451],[5.488,0.487],[5.492,0.42],[5.495,0.55],[5.498,0.445],
  [5.502,0.437],[5.505,0.484],[5.508,0.391],[5.512,0.461],[5.515,0.519],[5.518,0.414],[5.522,0.469],[5.525,0.356],[5.528,0.503],[5.532,0.427],[5.535,0.478],[5.538,0.399],[5.542,0.538],[5.545,0.452],[5.548,0.409],[5.552,0.489],[5.555,0.341],[5.558,0.463],[5.562,0.513],[5.565,0.441],[5.568,0.384],[5.572,0.497],[5.575,0.448],[5.578,0.417],[5.582,0.553],[5.585,0.425],[5.588,0.475],[5.592,0.369],[5.595,0.507],[5.598,0.444],[5.602,0.403],[5.605,0.483],[5.608,0.332],[5.612,0.459],[5.615,0.528],[5.618,0.421],[5.622,0.47],[5.625,0.392],[5.628,0.502],[5.632,0.433],[5.635,0.454],[5.638,0.375],[5.642,0.518],[5.645,0.44],[5.648,0.479],[5.652,0.411],[5.655,0.545],[5.658,0.447],[5.662,0.4],[5.665,0.493],[5.668,0.351],[5.672,0.467],[5.675,0.512],[5.678,0.43],[5.682,0.384],[5.685,0.494],[5.688,0.457],[5.692,0.419],[5.695,0.541],[5.698,0.436],[5.702,0.474],[5.705,0.37],[5.708,0.504],[5.712,0.449],[5.715,0.405],[5.718,0.484],[5.722,0.327],[5.725,0.461],[5.728,0.523],[5.732,0.423],[5.735,0.468],[5.738,0.394],[5.742,0.499],[5.745,0.431],[5.748,0.452],[5.752,0.379],[5.755,0.517],[5.758,0.442],[5.762,0.477],[5.765,0.413],[5.768,0.549],[5.772,0.445],[5.775,0.402],[5.778,0.491],[5.782,0.346],[5.785,0.465],[5.788,0.51],[5.792,0.428],[5.795,0.387],[5.798,0.497],[5.802,0.455],[5.805,0.417],[5.808,0.535],[5.812,0.434],[5.815,0.472],[5.818,0.373],[5.822,0.506],[5.825,0.443],[5.828,0.408],[5.832,0.48],[5.835,0.338],[5.838,0.458],[5.842,0.521],[5.845,0.425],[5.848,0.467],[5.852,0.397],[5.855,0.498],[5.858,0.429],[5.862,0.45],[5.865,0.382],[5.868,0.515],[5.872,0.439],[5.875,0.475],[5.878,0.41],[5.882,0.532],[5.885,0.443],[5.888,0.399],[5.892,0.489],[5.895,0.357],[5.898,0.463],[5.902,0.508],[5.905,0.426],[5.908,0.39],[5.912,0.495],[5.915,0.453],[5.918,0.415],[5.922,0.527],[5.925,0.432],[5.928,0.47],[5.932,0.377],[5.935,0.504],[5.938,0.441],[5.942,0.405],[5.945,0.478],[5.948,0.347],[5.952,0.456],[5.955,0.517],[5.958,0.422],[5.962,0.465],[5.965,0.395],[5.968,0.5],[5.972,0.428],[5.975,0.448],[5.978,0.372],[5.982,0.513],[5.985,0.437],[5.988,0.473],[5.992,0.406],[5.995,0.536],[5.998,0.431]]

const pts6to7 = [[6.0,0.433],[6.003,0.497],[6.006,0.368],[6.009,0.541],[6.012,0.412],[6.015,0.467],[6.018,0.331],[6.021,0.584],[6.024,0.445],[6.027,0.394],[6.03,0.513],[6.033,0.667],[6.036,0.427],[6.039,0.354],[6.042,0.481],[6.045,0.558],[6.048,0.403],[6.051,0.455],[6.054,0.293],[6.057,0.525],[6.06,0.419],[6.063,0.612],[6.066,0.472],[6.069,0.384],[6.072,0.506],[6.075,0.439],[6.078,0.343],[6.081,0.566],[6.084,0.422],[6.087,0.488],[6.09,0.706],[6.093,0.371],[6.096,0.521],[6.099,0.452],[6.102,0.408],[6.105,0.587],[6.108,0.463],[6.111,0.322],[6.114,0.509],[6.117,0.429],[6.12,0.389],[6.123,0.545],[6.126,0.471],[6.129,0.638],[6.132,0.411],[6.135,0.359],[6.138,0.499],[6.141,0.443],[6.144,0.572],[6.147,0.393],[6.15,0.466],[6.153,0.279],[6.156,0.528],[6.159,0.417],[6.162,0.483],[6.165,0.349],[6.168,0.597],[6.171,0.434],[6.174,0.402],[6.177,0.515],[6.18,0.458],[6.183,0.686],[6.186,0.376],[6.189,0.491],[6.192,0.427],[6.195,0.549],[6.198,0.334],[6.201,0.449],[6.204,0.398],[6.207,0.534],[6.21,0.415],[6.213,0.479],[6.216,0.627],[6.219,0.363],[6.222,0.503],[6.225,0.441],[6.228,0.311],[6.231,0.558],[6.234,0.421],[6.237,0.473],[6.24,0.387],[6.243,0.582],[6.246,0.446],[6.249,0.511],[6.252,0.353],[6.255,0.429],[6.258,0.662],[6.261,0.404],[6.264,0.492],[6.267,0.368],[6.27,0.543],[6.273,0.455],[6.276,0.326],[6.279,0.519],[6.282,0.412],[6.285,0.473],[6.288,0.603],[6.291,0.391],[6.294,0.441],[6.297,0.504],[6.3,0.346],[6.303,0.566],[6.306,0.424],[6.309,0.483],[6.312,0.377],[6.315,0.526],[6.318,0.448],[6.321,0.287],[6.324,0.496],[6.327,0.415],[6.33,0.629],[6.333,0.457],[6.336,0.382],[6.339,0.536],[6.342,0.431],[6.345,0.336],[6.348,0.489],[6.351,0.407],[6.354,0.576],[6.357,0.446],[6.36,0.369],[6.363,0.511],[6.366,0.435],[6.369,0.694],[6.372,0.397],[6.375,0.472],[6.378,0.323],[6.381,0.548],[6.384,0.419],[6.387,0.485],[6.39,0.361],[6.393,0.591],[6.396,0.439],[6.399,0.405],[6.402,0.521],[6.405,0.463],[6.408,0.304],[6.411,0.541],[6.414,0.393],[6.417,0.477],[6.42,0.648],[6.423,0.425],[6.426,0.355],[6.429,0.506],[6.432,0.449],[6.435,0.394],[6.438,0.556],[6.441,0.417],[6.444,0.487],[6.447,0.341],[6.45,0.524],[6.453,0.444],[6.456,0.597],[6.459,0.381],[6.462,0.468],[6.465,0.402],[6.468,0.514],[6.471,0.281],[6.474,0.453],[6.477,0.553],[6.48,0.412],[6.483,0.492],[6.486,0.366],[6.489,0.617],[6.492,0.433],[6.495,0.383],[6.498,0.502],[6.004,0.389],[6.044,0.439],[6.084,0.362],[6.124,0.432],[6.164,0.384],[6.204,0.352],[6.244,0.419],[6.284,0.378],[6.324,0.444],[6.364,0.388],[6.404,0.374],[6.444,0.362],[6.484,0.424],
  [6.5,0.428],[6.504,0.489],[6.508,0.362],[6.512,0.532],[6.516,0.405],[6.52,0.459],[6.524,0.324],[6.528,0.571],[6.532,0.437],[6.536,0.387],[6.54,0.504],[6.544,0.652],[6.548,0.419],[6.552,0.346],[6.556,0.473],[6.56,0.545],[6.564,0.396],[6.568,0.447],[6.572,0.286],[6.576,0.516],[6.58,0.412],[6.584,0.598],[6.588,0.464],[6.592,0.377],[6.596,0.497],[6.6,0.431],[6.604,0.337],[6.608,0.553],[6.612,0.415],[6.616,0.479],[6.62,0.688],[6.624,0.365],[6.628,0.512],[6.632,0.444],[6.636,0.401],[6.64,0.574],[6.644,0.455],[6.648,0.317],[6.652,0.501],[6.656,0.422],[6.66,0.383],[6.664,0.536],[6.668,0.463],[6.672,0.621],[6.676,0.404],[6.68,0.352],[6.684,0.491],[6.688,0.436],[6.692,0.561],[6.696,0.386],[6.7,0.458],[6.704,0.274],[6.708,0.519],[6.712,0.409],[6.716,0.475],[6.72,0.343],[6.724,0.583],[6.728,0.426],[6.732,0.395],[6.736,0.507],[6.74,0.451],[6.744,0.667],[6.748,0.369],[6.752,0.483],[6.756,0.419],[6.76,0.541],[6.764,0.328],[6.768,0.441],[6.772,0.391],[6.776,0.526],[6.78,0.407],[6.784,0.471],[6.788,0.612],[6.792,0.357],[6.796,0.495],[6.8,0.434],[6.804,0.306],[6.808,0.549],[6.812,0.414],[6.816,0.465],[6.82,0.381],[6.824,0.572],[6.828,0.439],[6.832,0.503],[6.836,0.347],[6.84,0.422],[6.844,0.643],[6.848,0.397],[6.852,0.484],[6.856,0.361],[6.86,0.534],[6.864,0.448],[6.868,0.321],[6.872,0.511],[6.876,0.405],[6.88,0.466],[6.884,0.589],[6.888,0.384],[6.892,0.434],[6.896,0.496],[6.9,0.339],[6.904,0.556],[6.908,0.417],[6.912,0.475],[6.916,0.371],[6.92,0.518],[6.924,0.441],[6.928,0.281],[6.932,0.488],[6.936,0.408],[6.94,0.614],[6.944,0.451],[6.948,0.376],[6.952,0.527],[6.956,0.424],[6.96,0.331],[6.964,0.482],[6.968,0.401],[6.972,0.563],[6.976,0.439],[6.98,0.363],[6.984,0.503],[6.988,0.428],[6.992,0.677],[6.996,0.391],[6.514,0.379],[6.554,0.414],[6.594,0.358],[6.634,0.392],[6.674,0.438],[6.714,0.369],[6.754,0.401],[6.794,0.376],[6.834,0.418],[6.874,0.356],[6.914,0.392],[6.954,0.364],[6.994,0.412]]

const core6to7 = [[6.002,0.429],[6.006,0.476],[6.01,0.383],[6.014,0.453],[6.018,0.511],[6.023,0.406],[6.027,0.461],[6.031,0.348],[6.035,0.495],[6.039,0.419],[6.043,0.47],[6.048,0.391],[6.052,0.53],[6.056,0.444],[6.06,0.401],[6.064,0.481],[6.068,0.333],[6.073,0.455],[6.077,0.505],[6.081,0.433],[6.085,0.376],[6.089,0.489],[6.093,0.44],[6.098,0.409],[6.102,0.545],[6.106,0.417],[6.11,0.467],[6.114,0.361],[6.118,0.499],[6.123,0.436],[6.127,0.395],[6.131,0.475],[6.135,0.326],[6.139,0.451],[6.143,0.52],[6.148,0.413],[6.152,0.462],[6.156,0.384],[6.16,0.494],[6.164,0.425],[6.168,0.446],[6.173,0.367],[6.177,0.51],[6.181,0.432],[6.185,0.471],[6.189,0.403],[6.193,0.537],[6.198,0.439],[6.202,0.392],[6.206,0.485],[6.21,0.343],[6.214,0.459],[6.218,0.504],[6.223,0.422],[6.227,0.376],[6.231,0.486],[6.235,0.449],[6.239,0.411],[6.243,0.533],[6.248,0.428],[6.252,0.466],[6.256,0.362],[6.26,0.496],[6.264,0.441],[6.268,0.397],[6.273,0.476],[6.277,0.331],[6.281,0.453],[6.285,0.515],[6.289,0.415],[6.293,0.46],[6.298,0.386],[6.302,0.491],[6.306,0.423],[6.31,0.444],[6.314,0.371],[6.318,0.509],[6.323,0.434],[6.327,0.469],[6.331,0.405],[6.335,0.541],[6.339,0.437],[6.343,0.394],[6.348,0.483],[6.352,0.338],[6.356,0.457],[6.36,0.502],[6.364,0.42],[6.368,0.379],[6.373,0.489],[6.377,0.447],[6.381,0.409],[6.385,0.527],[6.389,0.426],[6.393,0.464],[6.398,0.365],[6.402,0.498],[6.406,0.435],[6.41,0.4],[6.414,0.472],[6.418,0.336],[6.423,0.45],[6.427,0.513],[6.431,0.417],[6.435,0.459],[6.439,0.389],[6.443,0.49],[6.448,0.421],[6.452,0.442],[6.456,0.374],[6.46,0.507],[6.464,0.431],[6.468,0.467],[6.473,0.398],[6.477,0.528],[6.481,0.435],[6.485,0.391],[6.489,0.481],[6.493,0.349],[6.498,0.455],
  [6.503,0.424],[6.508,0.469],[6.514,0.378],[6.519,0.447],[6.525,0.503],[6.53,0.401],[6.536,0.455],[6.541,0.343],[6.547,0.488],[6.552,0.414],[6.558,0.463],[6.563,0.386],[6.569,0.522],[6.574,0.438],[6.58,0.396],[6.585,0.474],[6.591,0.329],[6.596,0.449],[6.602,0.498],[6.607,0.427],[6.613,0.371],[6.618,0.482],[6.624,0.434],[6.629,0.404],[6.635,0.537],[6.64,0.412],[6.646,0.46],[6.651,0.356],[6.657,0.492],[6.662,0.43],[6.668,0.39],[6.673,0.468],[6.679,0.321],[6.684,0.445],[6.69,0.512],[6.695,0.408],[6.701,0.456],[6.706,0.379],[6.712,0.487],[6.717,0.42],[6.723,0.441],[6.728,0.362],[6.734,0.503],[6.739,0.427],[6.745,0.465],[6.75,0.398],[6.756,0.529],[6.761,0.433],[6.767,0.387],[6.772,0.478],[6.778,0.338],[6.783,0.452],[6.789,0.497],[6.794,0.416],[6.8,0.371],[6.805,0.481],[6.811,0.443],[6.816,0.405],[6.822,0.524],[6.827,0.422],[6.833,0.459],[6.838,0.357],[6.844,0.49],[6.849,0.435],[6.855,0.392],[6.86,0.47],[6.866,0.326],[6.871,0.447],[6.877,0.508],[6.882,0.411],[6.888,0.454],[6.893,0.381],[6.899,0.484],[6.904,0.417],[6.91,0.438],[6.915,0.366],[6.921,0.501],[6.926,0.428],[6.932,0.462],[6.937,0.395],[6.943,0.519],[6.948,0.43],[6.954,0.384],[6.959,0.474],[6.965,0.341],[6.97,0.449],[6.976,0.494],[6.981,0.412],[6.987,0.453],[6.992,0.383]]

const pts7to8 = [[7.0,0.423],[7.006,0.486],[7.012,0.358],[7.018,0.527],[7.024,0.401],[7.03,0.455],[7.036,0.319],[7.042,0.563],[7.048,0.432],[7.054,0.383],[7.06,0.499],[7.066,0.638],[7.072,0.414],[7.078,0.342],[7.084,0.468],[7.09,0.539],[7.096,0.392],[7.102,0.443],[7.108,0.269],[7.114,0.511],[7.12,0.407],[7.126,0.589],[7.132,0.459],[7.138,0.372],[7.144,0.492],[7.15,0.426],[7.156,0.331],[7.162,0.547],[7.168,0.411],[7.174,0.474],[7.18,0.666],[7.186,0.361],[7.192,0.506],[7.198,0.438],[7.204,0.396],[7.21,0.566],[7.216,0.451],[7.222,0.308],[7.228,0.497],[7.234,0.418],[7.24,0.379],[7.246,0.529],[7.252,0.457],[7.258,0.612],[7.264,0.399],[7.27,0.347],[7.276,0.486],[7.282,0.432],[7.288,0.554],[7.294,0.383],[7.3,0.452],[7.306,0.278],[7.312,0.514],[7.318,0.404],[7.324,0.469],[7.33,0.338],[7.336,0.575],[7.342,0.421],[7.348,0.391],[7.354,0.502],[7.36,0.446],[7.366,0.698],[7.372,0.365],[7.378,0.478],[7.384,0.413],[7.39,0.532],[7.396,0.323],[7.402,0.436],[7.408,0.387],[7.414,0.519],[7.42,0.402],[7.426,0.465],[7.432,0.593],[7.438,0.352],[7.444,0.489],[7.45,0.429],[7.456,0.298],[7.462,0.541],[7.468,0.409],[7.474,0.459],[7.48,0.376],[7.486,0.563],[7.492,0.434],[7.498,0.496],[7.41,0.266],[7.1,0.725],[7.25,0.742],
  [7.5,0.418],[7.51,0.471],[7.52,0.353],[7.53,0.514],[7.54,0.398],[7.55,0.447],[7.56,0.316],[7.57,0.552],[7.58,0.424],[7.59,0.379],[7.6,0.489],[7.61,0.621],[7.62,0.409],[7.63,0.336],[7.64,0.461],[7.65,0.527],[7.66,0.387],[7.67,0.437],[7.68,0.279],[7.69,0.503],[7.7,0.401],[7.71,0.576],[7.72,0.452],[7.73,0.366],[7.74,0.484],[7.75,0.419],[7.76,0.327],[7.77,0.538],[7.78,0.406],[7.79,0.467],[7.8,0.652],[7.81,0.356],[7.82,0.496],[7.83,0.431],[7.84,0.392],[7.85,0.553],[7.86,0.443],[7.87,0.304],[7.88,0.487],[7.89,0.412],[7.9,0.371],[7.91,0.518],[7.92,0.448],[7.93,0.594],[7.94,0.393],[7.95,0.341],[7.96,0.476],[7.97,0.427],[7.98,0.541],[7.99,0.381],[7.55,0.702],[7.72,0.683],[7.85,0.631]]

const core7to9 = [[7.004,0.421],[7.014,0.466],[7.024,0.376],[7.034,0.444],[7.044,0.499],[7.054,0.398],[7.064,0.452],[7.074,0.341],[7.084,0.484],[7.094,0.411],[7.104,0.461],[7.114,0.383],[7.124,0.517],[7.134,0.435],[7.144,0.393],[7.154,0.471],[7.164,0.327],[7.174,0.446],[7.184,0.494],[7.194,0.424],[7.204,0.368],[7.214,0.479],[7.224,0.431],[7.234,0.401],[7.244,0.532],[7.254,0.409],[7.264,0.457],[7.274,0.353],[7.284,0.488],[7.294,0.427],[7.304,0.387],[7.314,0.465],[7.324,0.318],[7.334,0.442],[7.344,0.507],[7.354,0.405],[7.364,0.453],[7.374,0.376],[7.384,0.483],[7.394,0.417],[7.404,0.438],[7.414,0.359],[7.424,0.498],[7.434,0.424],[7.444,0.462],[7.454,0.395],[7.464,0.521],[7.474,0.43],[7.484,0.381],[7.494,0.471],
  [7.505,0.431],[7.52,0.489],[7.535,0.392],[7.55,0.457],[7.565,0.516],[7.58,0.407],[7.595,0.463],[7.61,0.358],[7.625,0.497],[7.64,0.422],[7.655,0.474],[7.67,0.384],[7.685,0.532],[7.7,0.441],[7.715,0.398],[7.73,0.479],[7.745,0.338],[7.76,0.452],[7.775,0.507],[7.79,0.428],[7.805,0.371],[7.82,0.486],[7.835,0.436],[7.85,0.405],[7.865,0.548],[7.88,0.413],[7.895,0.462],[7.91,0.351],[7.925,0.493],[7.94,0.432],[7.955,0.391],[7.97,0.471],[7.985,0.329],[8.04,0.467],[8.09,0.411],[8.14,0.521],[8.19,0.438],[8.24,0.492],[8.29,0.402],[8.34,0.543],[8.39,0.451],[8.44,0.383],[8.49,0.508],[8.54,0.426],[8.59,0.469],[8.64,0.395],[8.69,0.528],[8.74,0.443],[8.79,0.376],[8.84,0.484],[8.89,0.416],[8.94,0.551],[8.99,0.432]]

const pts8to9 = [[8.02,0.446],[8.05,0.392],[8.07,0.512],[8.1,0.423],[8.12,0.365],[8.15,0.478],[8.17,0.551],[8.2,0.408],[8.22,0.454],[8.25,0.343],[8.27,0.497],[8.3,0.431],[8.32,0.586],[8.35,0.387],[8.37,0.462],[8.4,0.419],[8.42,0.524],[8.45,0.358],[8.47,0.441],[8.5,0.483],[8.52,0.397],[8.55,0.563],[8.57,0.428],[8.6,0.372],[8.62,0.506],[8.65,0.449],[8.67,0.313],[8.7,0.471],[8.72,0.414],[8.75,0.536],[8.77,0.389],[8.8,0.457],[8.82,0.421],[8.85,0.348],[8.87,0.493],[8.9,0.437],[8.92,0.574],[8.95,0.402],[8.97,0.466],[8.08,0.592],[8.18,0.614],[8.43,0.571],[8.63,0.588],[8.11,0.366],[8.28,0.367],[8.58,0.336],[8.78,0.472],[8.88,0.382]]

// sparse points above the cloud
const sparseTop = [[0.52,1.346],[0.65,1.403],[3.04,1.298],[3.58,1.403],[2.47,1.269],[1.95,1.231],[2.03,1.233],[1.58,1.193],[1.28,1.18],[1.48,1.141],[1.54,1.126],[1.21,1.093],[1.29,1.077],[1.54,1.085],[1.39,1.047],[1.52,1.055],[1.33,1.033],[1.62,1.035],[1.71,1.034],[1.72,1.03],[0.6,1.014],[0.58,0.996],[0.58,0.965],[0.82,0.958],[2.51,1.132],[2.52,1.128],[2.77,1.141],[2.77,1.135],[3.66,1.164],[3.7,1.152],[4.33,1.161],[4.38,1.121],[2.05,1.071],[2.06,1.059],[1.97,1.013],[2.08,1.008],[2.02,0.979],[2.09,0.978],[1.84,0.973],[1.79,0.961],[2.21,0.972],[2.4,0.994],[2.46,1.008],[2.5,1.008],[2.57,1.019],[2.56,1.037],[2.66,1.035],[2.68,0.998],[2.8,0.99],[2.45,0.957],[2.63,0.961],[3.19,1.017],[3.33,1.012],[3.14,0.966],[3.4,1.093],[3.5,1.085],[3.67,1.083],[3.61,1.068],[3.72,1.045],[3.65,1.037],[3.76,1.019],[3.58,0.998],[4.0,1.05],[4.39,1.053],[4.45,1.053],[4.78,1.057],[4.85,1.001],[4.43,0.987],[4.61,0.976],[4.28,0.968],[4.79,0.961],[5.2,0.968],[3.12,0.956],[3.29,0.956],[3.48,0.956],[6.41,1.267],[6.93,1.016],[6.35,1.006],[5.36,0.993],[5.75,0.957],[6.01,0.961],[6.74,0.954],[6.65,0.903],[6.41,0.899],[6.72,0.881],[6.14,0.89],[5.29,0.891],[5.16,0.883],[5.1,0.872],[5.08,0.868],[5.35,0.859],[5.82,0.869],[5.81,0.859],[6.98,0.86],[8.35,0.852],[7.41,0.842],[1.38,0.961],[1.14,0.941],[1.28,0.948],[0.66,0.936],[0.76,0.918],[0.45,0.911],[1.0,0.925],[1.05,0.911],[1.6,0.951],[1.67,0.933],[1.74,0.938],[1.82,0.974],[2.25,0.938],[2.36,0.921],[2.47,0.954],[2.93,0.938],[3.02,0.954],[3.15,0.951],[3.17,0.946],[3.39,0.954],[3.55,0.934],[3.85,0.915],[4.01,0.934],[4.22,0.951],[4.27,0.971],[5.97,0.852],[6.23,0.852],[6.34,0.816],[5.99,0.822],[5.77,0.806],[5.79,0.805],[5.66,0.799]]

// sparse points at the upper right and lower edge of the cloud
const sparseEdge = [[6.21,0.75],[6.6,0.724],[6.78,0.72],[7.21,0.729],[7.62,0.745],[7.53,0.731],[8.03,0.735],[7.93,0.707],[7.99,0.708],[8.06,0.708],[8.27,0.698],[8.55,0.694],[6.59,0.714],[6.97,0.687],[7.09,0.69],[7.26,0.697],[7.43,0.7],[7.3,0.67],[7.54,0.684],[7.59,0.666],[7.69,0.651],[7.7,0.635],[8.2,0.657],[8.2,0.644],[8.29,0.638],[8.35,0.631],[8.4,0.633],[8.86,0.638],[8.32,0.615],[8.46,0.611],[8.9,0.618],[9.15,0.61],[7.4,0.262],[7.54,0.262],[7.38,0.284],[8.41,0.272],[6.22,0.277],[5.28,0.292],[5.81,0.285],[6.62,0.282],[6.36,0.295],[6.98,0.293],[4.97,0.312],[4.75,0.315],[4.42,0.332],[4.18,0.341],[3.77,0.368],[3.35,0.381],[0.35,0.559],[0.5,0.503],[0.89,0.483],[1.5,0.473],[1.83,0.488],[1.99,0.424],[2.24,0.424],[1.19,0.508],[1.36,0.503],[0.32,0.612],[0.76,0.565],[0.88,0.549],[1.91,0.463],[2.43,0.46],[2.67,0.434],[2.96,0.397]]

// high expression tail
const sparseRight = [[10.22,0.646],[11.07,0.63],[11.22,0.64],[11.9,0.622],[12.42,0.626],[12.6,0.604],[11.73,0.604],[13.6,0.589],[10.64,0.587],[11.0,0.594],[11.06,0.573],[10.94,0.556],[12.58,0.545],[11.62,0.525],[11.24,0.519],[11.18,0.506],[10.98,0.509],[10.78,0.502],[10.81,0.484],[10.96,0.491],[12.02,0.484],[10.88,0.465],[10.98,0.465],[11.12,0.465],[10.65,0.453],[10.71,0.447],[10.78,0.419],[11.07,0.407],[11.22,0.383],[11.94,0.383],[10.85,0.371],[10.85,0.355],[11.05,0.359],[11.5,0.312],[13.58,0.321],[10.43,0.334],[10.22,0.531],[10.42,0.521],[10.36,0.481],[10.4,0.443],[10.59,0.427],[10.55,0.424],[10.5,0.397],[10.33,0.403],[10.22,0.389],[10.31,0.367],[10.22,0.359],[10.09,0.351],[10.02,0.361],[10.05,0.41],[10.08,0.41],[9.93,0.565],[9.81,0.563],[9.71,0.569],[9.67,0.55],[9.89,0.531],[10.21,0.531],[9.7,0.514],[9.89,0.514],[9.3,0.505],[9.25,0.521],[9.7,0.6],[9.56,0.6],[9.53,0.587],[9.59,0.577],[9.43,0.575],[9.46,0.573],[9.25,0.585],[9.14,0.587],[9.14,0.536],[9.29,0.559],[9.68,0.478],[9.68,0.47],[9.86,0.486],[9.98,0.472],[10.0,0.468],[10.15,0.459],[9.88,0.455],[9.7,0.46],[9.58,0.442],[9.47,0.48],[9.49,0.481],[9.37,0.476],[9.38,0.467],[9.41,0.448],[9.39,0.446],[9.37,0.399],[9.34,0.388],[9.23,0.389],[9.23,0.341],[9.18,0.334],[9.06,0.337],[9.05,0.314],[8.89,0.318],[8.94,0.29],[8.82,0.292],[8.72,0.33],[8.54,0.279],[8.42,0.272],[8.48,0.297],[8.36,0.295],[8.11,0.296],[8.35,0.321],[8.46,0.32],[7.98,0.333],[8.02,0.327],[8.13,0.331],[8.19,0.327],[7.88,0.31],[9.46,0.345],[9.74,0.355],[9.79,0.366],[9.61,0.377],[9.52,0.361],[9.53,0.406],[9.88,0.387],[9.83,0.416],[9.7,0.414],[9.72,0.412],[9.67,0.434],[9.69,0.43],[9.85,0.433],[9.91,0.433],[9.98,0.429]]

// no gene flagged as outlier
const outlierPts = []

const fontFamily = '"Liberation Sans", Arial, Helvetica, sans-serif'

// the dense core of the cloud is drawn with slightly heavier dots
const normalPts = [].concat(pts0to1, pts1to2, pts2to3, pts3to4, pts4to5, pts5to6, pts6to7, pts7to8, pts8to9,
  sparseTop, sparseEdge, sparseRight)
const corePts = [].concat(core4to5, core5to6, core6to7, core7to9)
const trendPts = trendX.map((x, i) => [x, trendY[i]])

const chart = echarts.init(document.getElementById('chart'), null, { renderer: 'canvas' })

chart.setOption({
  animation: false,
  backgroundColor: '#fff',
  textStyle: { fontFamily: fontFamily },
  grid: {
    left: 123, right: 63, top: 123, bottom: 153,
    show: true, borderColor: '#000', borderWidth: 1.5,
    backgroundColor: 'transparent',
    outerBoundsMode: 'none'
  },
  xAxis: {
    type: 'value',
    min: -0.387, max: 14.143,
    axisLine: { show: false, onZero: false },
    splitLine: { show: false },
    axisTick: { show: true, customValues: xTicks, length: 15, lineStyle: { color: '#000', width: 1.5 } },
    axisLabel: { customValues: xTicks, fontSize: 25, color: '#000', margin: 35, fontFamily: fontFamily,
      formatter: v => String(v) },
    name: 'Average log-expression',
    nameLocation: 'middle',
    nameGap: 94,
    nameTextStyle: { fontSize: 25, color: '#000', fontFamily: fontFamily }
  },
  yAxis: {
    type: 'value',
    min: 0.2156, max: 1.449,
    axisLine: { show: false, onZero: false },
    splitLine: { show: false },
    axisTick: { show: true, customValues: yTicks, length: 15, lineStyle: { color: '#000', width: 1.5 } },
    axisLabel: { customValues: yTicks, fontSize: 25, color: '#000', margin: 31, rotate: 90, fontFamily: fontFamily,
      formatter: v => v.toFixed(1) },
    name: 'sqrt(sigma)',
    nameLocation: 'middle',
    nameGap: 88,
    nameTextStyle: { fontSize: 25, color: '#000', fontFamily: fontFamily }
  },
  legend: {
    data: ['Normal', 'Outlier'],
    orient: 'vertical',
    left: 1000, top: 123,
    icon: 'circle',
    itemWidth: 35, itemHeight: 11, itemGap: 6,
    symbolKeepAspect: true,
    padding: [17, 11, 16, 18],
    borderColor: '#000', borderWidth: 1.5, borderRadius: 0,
    backgroundColor: '#fff',
    selectedMode: false,
    textStyle: { fontSize: 25, color: '#000', fontFamily: fontFamily }
  },
  series: [
    {
      name: 'Normal',
      type: 'scatter',
      data: normalPts,
      symbol: 'rect',
      symbolSize: 3,
      itemStyle: { color: '#000' },
      silent: true
    },
    {
      name: 'Normal',
      type: 'scatter',
      data: corePts,
      symbol: 'rect',
      symbolSize: 4,
      itemStyle: { color: '#000' },
      silent: true
    },
    {
      name: 'Outlier',
      type: 'scatter',
      data: outlierPts,
      symbol: 'rect',
      symbolSize: 3,
      itemStyle: { color: '#ff0000' },
      silent: true
    },
    {
      name: 'trend',
      type: 'line',
      data: trendPts,
      smooth: true,
      showSymbol: false,
      lineStyle: { color: '#0000ff', width: 1.5 },
      itemStyle: { color: '#0000ff' },
      silent: true,
      z: 5
    }
  ]
})
</script>
</body>
</html>
